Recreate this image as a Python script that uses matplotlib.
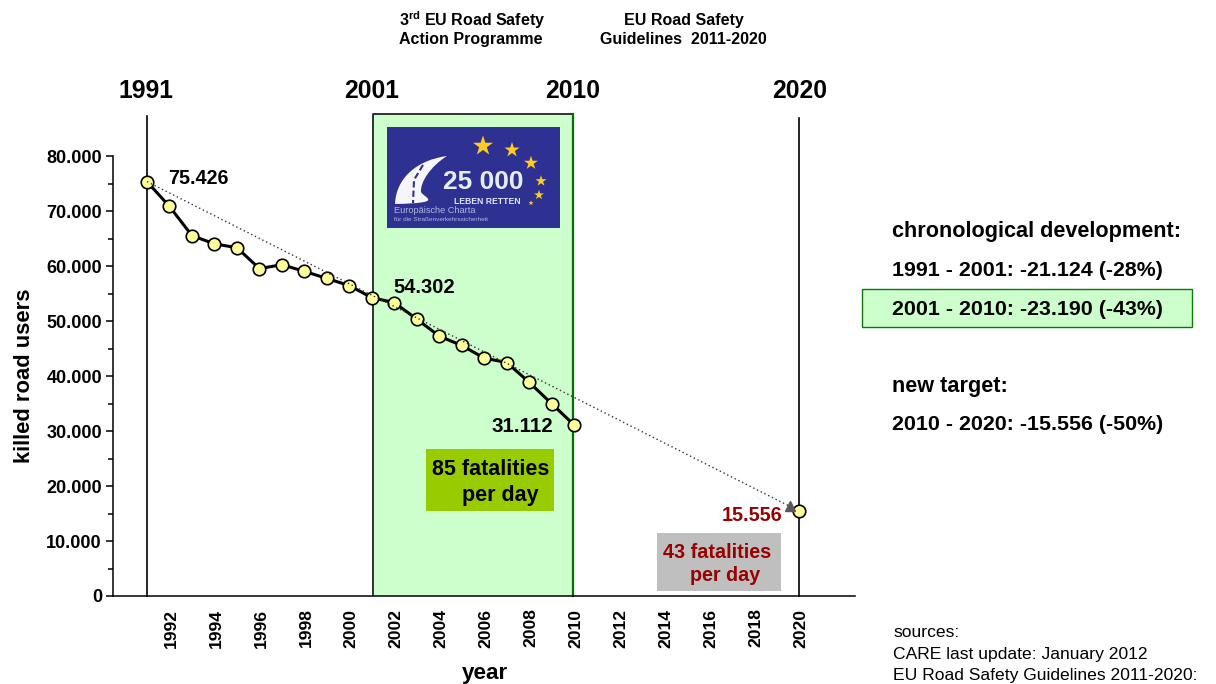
import matplotlib
matplotlib.use('Agg')
import matplotlib.pyplot as plt
from matplotlib.patches import Rectangle, PathPatch
from matplotlib.path import Path
from matplotlib.transforms import ScaledTranslation

plt.rcParams['font.family'] = ['Liberation Sans', 'DejaVu Sans']
plt.rcParams['mathtext.fontset'] = 'custom'
plt.rcParams['mathtext.bf'] = 'Liberation Sans:bold'
plt.rcParams['mathtext.rm'] = 'Liberation Sans:bold'

years = [1991, 1992, 1993, 1994, 1995, 1996, 1997, 1998, 1999, 2000,
         2001, 2002, 2003, 2004, 2005, 2006, 2007, 2008, 2009, 2010]
killed = [75426, 70900, 65600, 64100, 63400, 59600, 60300, 59100, 57800, 56500,
          54302, 53400, 50400, 47300, 45600, 43300, 42500, 38900, 35000, 31112]
target_year = [2020]
target_value = [15556]
trend_years = [1991, 2019.6]
trend_values = [75426, 16300]
year_ticks = list(range(1992, 2021, 2))
y_ticks = list(range(0, 80001, 10000))
y_labels = ['0', '10.000', '20.000', '30.000', '40.000', '50.000', '60.000', '70.000', '80.000']

W, H = 1216, 684
fig = plt.figure(figsize=(W / 100, H / 100), dpi=100, facecolor='white')

# pixel-space layer for the decorations
ov = fig.add_axes([0, 0, 1, 1], zorder=0)
ov.set_xlim(0, W); ov.set_ylim(H, 0); ov.axis('off')

L, R, T, B = 113, 855, 156.5, 596
ax = fig.add_axes([L / W, 1 - B / H, (R - L) / W, (B - T) / H], zorder=1)
ax.patch.set_visible(False)
px_per_year = (799 - 147) / 29
ax.set_xlim(1991 - (147 - L) / px_per_year, 2020 + (R - 799) / px_per_year)
ax.set_ylim(0, 80000)
for s in ('top', 'right'):
    ax.spines[s].set_visible(False)
for s in ('left', 'bottom'):
    ax.spines[s].set_linewidth(1.1)

ax.set_yticks(y_ticks)
ax.set_yticklabels(y_labels, fontsize=13, fontweight='bold')
ax.set_yticks(list(range(5000, 80000, 10000)), minor=True)
ax.tick_params(axis='y', which='major', length=5, width=1.1, pad=3)
ax.tick_params(axis='y', which='minor', length=3.5, width=1.1)
ax.set_xticks(year_ticks)
ax.set_xticklabels(year_ticks, rotation=90, fontsize=12.6, fontweight='bold')
ax.tick_params(axis='x', length=0, pad=9)
shift = ScaledTranslation(2 / 100, 0, fig.dpi_scale_trans)
for lab in ax.get_xticklabels():
    lab.set_transform(lab.get_transform() + shift)

# guide lines and green band
ov.add_patch(Rectangle((373, 114), 200, 482, facecolor='#CCFFCC', edgecolor='none'))
ov.plot([373, 373, 573], [596, 114, 114], color='#222222', lw=1.3, solid_capstyle='butt')
ov.plot([573, 573], [114, 596], color='#0B6B0B', lw=1.6)
ov.plot([147, 147], [116, 596], color='black', lw=1.2)
ov.plot([799, 799], [118, 596], color='black', lw=1.2)

# series
ax.plot(trend_years, trend_values, color='#333333', lw=1, ls=(0, (1, 2)), zorder=4)
ax.plot(years, killed, color='black', lw=2.2, zorder=3)
ax.plot(years, killed, ls='none', marker='o', ms=9, mfc='#FFFF99', mec='black', mew=1.2, zorder=3.5)
ax.plot(target_year, target_value, ls='none', marker='o', ms=9, mfc='#FFFF99', mec='black', mew=1.2, zorder=3.5)
ax.plot(trend_years[1:], trend_values[1:], ls='none', marker='^', ms=7, color='#595959', zorder=5)


def t(x, y, s, size=14, color='black', ha='left', weight='bold', **kw):
    ov.text(x, y + 1.2, s, fontsize=size, color=color, ha=ha, va='center', fontweight=weight, **kw)


# header labels
for x, s in [(146, '1991'), (372, '2001'), (573, '2010'), (800, '2020')]:
    t(x, 90, s, size=17.8, ha='center')
t(399, 18.5, r'3$^{\mathbf{rd}}$ EU Road Safety', size=11.5)
t(399, 38.5, 'Action Programme', size=11.5)
t(684, 19, 'EU Road Safety', size=11.5, ha='center')
t(683, 38.5, 'Guidelines  2011-2020', size=11.5, ha='center')

# axis titles
t(25, 375, 'killed road users', size=15.8, ha='center', rotation=90)
t(485, 672, 'year', size=16.2, ha='center')

# value labels
t(168, 177, '75.426', size=14.2)
t(393, 286, '54.302', size=14.5)
t(491, 425, '31.112', size=14.8)
t(722, 514, '15.556', size=14.3, color='#990000')

# fatalities boxes
ov.add_patch(Rectangle((426, 449), 128, 62, facecolor='#99CC00', edgecolor='none'))
t(432, 468, '85 fatalities', size=15.5)
t(462, 494, 'per day', size=15.5)
ov.add_patch(Rectangle((657, 533), 124, 58, facecolor='#BFBFBF', edgecolor='none'))
t(663, 551, '43 fatalities', size=14.2, color='#990000')
t(690, 574, 'per day', size=14.2, color='#990000')

# right-hand text
t(892, 230, 'chronological development:', size=15.6)
t(892, 269, '1991 - 2001: -21.124 (-28%)', size=15.4)
ov.add_patch(Rectangle((861.5, 288.5), 330, 38, facecolor='#CCFFCC', edgecolor='#0B7A0B', lw=1))
t(892, 308, '2001 - 2010: -23.190 (-43%)', size=15.4)
t(892, 385, 'new target:', size=15.6)
t(892, 423.5, '2010 - 2020: -15.556 (-50%)', size=15.4)
t(893, 631.5, 'sources:', size=12.6, weight='normal')
t(893, 653, 'CARE last update: January 2012', size=12.6, weight='normal')
t(893, 674, 'EU Road Safety Guidelines 2011-2020:', size=12.6, weight='normal')

# logo
ov.add_patch(Rectangle((387, 127), 173, 101, facecolor='#2E3192', edgecolor='none'))
road = Path([(395, 204), (396, 178), (417, 160), (447, 156),
             (431, 166), (420, 182), (421, 192), (424, 198), (446, 203), (395, 204)],
            [Path.MOVETO, Path.CURVE4, Path.CURVE4, Path.CURVE4,
             Path.CURVE4, Path.CURVE4, Path.CURVE4, Path.CURVE4, Path.CURVE4, Path.CLOSEPOLY])
ov.add_patch(PathPatch(road, facecolor='#F5F6FB', edgecolor='none'))
ov.plot([423, 414, 413], [165, 180, 203], color='#2E3192', lw=1.5, ls=(0, (3, 1.5)))
star_x = [483, 512, 531, 541, 539, 531]
star_y = [146, 150, 163, 181, 195, 203]
star_s = [230, 130, 110, 70, 55, 15]
ov.scatter(star_x, star_y, s=star_s, marker='*', color='#FFCC22', linewidths=0)
t(443, 181, '25 000', size=19, color='#E8ECF8')
t(454, 200, 'LEBEN RETTEN', size=6.2, color='#DDE3F5')
t(394, 209, 'Europäische Charta', size=6.6, color='#AEB6E0', weight='normal')
t(394, 218, 'für die Straßenverkehrssicherheit', size=4.6, color='#AEB6E0', weight='normal')

fig.savefig('out.png', dpi=100)
